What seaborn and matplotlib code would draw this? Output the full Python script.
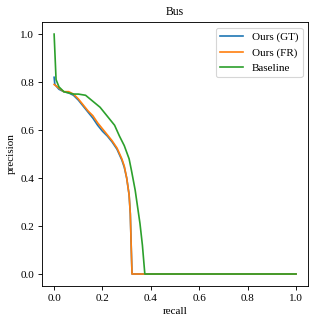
import matplotlib
matplotlib.use("Agg")
import matplotlib.pyplot as plt
import seaborn as sns
import pandas as pd

gt_recall = [0.0, 0.003, 0.02, 0.04, 0.06, 0.08, 0.10, 0.12, 0.14, 0.16, 0.18, 0.20, 0.22,
             0.24, 0.26, 0.28, 0.29, 0.30, 0.31, 0.315, 0.318, 0.322, 1.0]
gt_prec = [0.82, 0.79, 0.77, 0.76, 0.755, 0.745, 0.725, 0.70, 0.675, 0.65, 0.62, 0.595, 0.575,
           0.55, 0.52, 0.475, 0.445, 0.40, 0.33, 0.25, 0.14, 0.0, 0.0]

fr_recall = [0.0, 0.02, 0.04, 0.06, 0.08, 0.10, 0.12, 0.14, 0.16, 0.18, 0.20, 0.22,
             0.24, 0.26, 0.28, 0.29, 0.30, 0.31, 0.315, 0.318, 0.322, 1.0]
fr_prec = [0.79, 0.775, 0.76, 0.76, 0.75, 0.73, 0.705, 0.68, 0.66, 0.63, 0.605, 0.58,
           0.555, 0.525, 0.48, 0.45, 0.40, 0.33, 0.25, 0.14, 0.0, 0.0]

base_recall = [0.0, 0.008, 0.02, 0.04, 0.06, 0.08, 0.10, 0.13, 0.16, 0.19, 0.21, 0.23,
               0.25, 0.27, 0.29, 0.31, 0.32, 0.335, 0.345, 0.355, 0.365, 0.375, 1.0]
base_prec = [1.0, 0.81, 0.78, 0.76, 0.755, 0.75, 0.75, 0.745, 0.72, 0.695, 0.67, 0.645,
             0.62, 0.575, 0.535, 0.48, 0.43, 0.35, 0.28, 0.21, 0.12, 0.0, 0.0]

frames = []
for name, r, p in [("Ours (GT)", gt_recall, gt_prec),
                   ("Ours (FR)", fr_recall, fr_prec),
                   ("Baseline", base_recall, base_prec)]:
    frames.append(pd.DataFrame({"recall": r, "precision": p, "method": name}))
df = pd.concat(frames, ignore_index=True)

plt.rcParams["font.family"] = ["Liberation Serif", "DejaVu Serif"]
plt.rcParams["font.size"] = 10

fig = plt.figure(figsize=(3.95, 4.0625), dpi=80)
ax = fig.add_axes([0.133, 0.12, 0.842, 0.812])
sns.lineplot(data=df, x="recall", y="precision", hue="method", palette="tab10",
             estimator=None, sort=False, ax=ax)
ax.set_title("Bus", fontsize=10.5)
ax.set_xlabel("recall")
ax.set_ylabel("precision")
ax.set_xticks([0.0, 0.2, 0.4, 0.6, 0.8, 1.0])
ax.set_yticks([0.0, 0.2, 0.4, 0.6, 0.8, 1.0])
ax.legend(title=None, loc="upper right")
plt.savefig("out.png", dpi=80)
